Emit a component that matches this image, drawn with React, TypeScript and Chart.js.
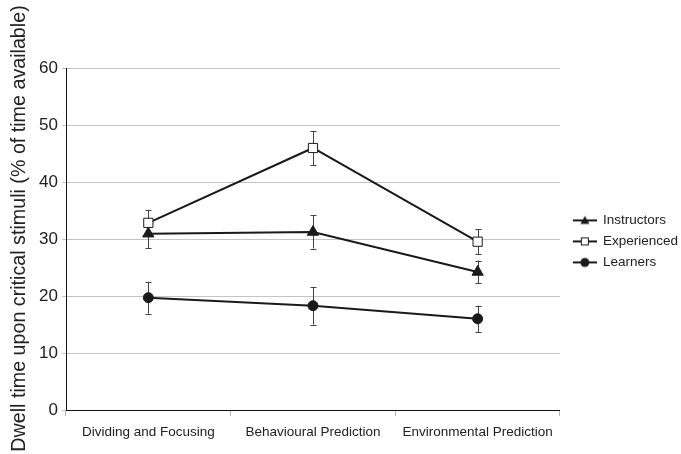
import React, { useEffect, useRef } from "react";
import { Chart, registerables } from "chart.js";

Chart.register(...registerables);

const categories = ["Dividing and Focusing", "Behavioural Prediction", "Environmental Prediction"];
const seriesNames = ["Instructors", "Experienced", "Learners"];
const instructors = [31.0, 31.3, 24.3];
const experienced = [32.9, 46.0, 29.6];
const learners = [19.8, 18.4, 16.1];
const instructorsErr = [2.5, 2.9, 2.0];
const experiencedErr = [2.3, 3.0, 2.2];
const learnersErr = [2.8, 3.3, 2.3];
const yTicks = [0, 10, 20, 30, 40, 50, 60];
const yTitle = "Dwell time upon critical stimuli (% of time available)";

const FONT = "'Liberation Sans', Arial, Helvetica, sans-serif";
const LINE = "#1a1a1a";

function makeLegendIcon(style: string): HTMLCanvasElement {
  const c = document.createElement("canvas");
  c.width = 30;
  c.height = 12;
  const ctx = c.getContext("2d")!;
  const ox = 6;
  ctx.strokeStyle = LINE;
  ctx.lineWidth = 2;
  ctx.beginPath();
  ctx.moveTo(ox, 6);
  ctx.lineTo(ox + 24, 6);
  ctx.stroke();
  ctx.lineWidth = 1;
  if (style === "triangle") {
    ctx.fillStyle = LINE;
    ctx.beginPath();
    ctx.moveTo(ox + 12, 1.5);
    ctx.lineTo(ox + 16.5, 9.5);
    ctx.lineTo(ox + 7.5, 9.5);
    ctx.closePath();
    ctx.fill();
  } else if (style === "rect") {
    ctx.fillStyle = "#ffffff";
    ctx.fillRect(ox + 8, 2, 8, 8);
    ctx.strokeRect(ox + 8.5, 2.5, 7, 7);
  } else {
    ctx.fillStyle = LINE;
    ctx.beginPath();
    ctx.arc(ox + 12, 6, 4.5, 0, Math.PI * 2);
    ctx.fill();
  }
  return c;
}

const errorBarPlugin = {
  id: "errorBars",
  beforeDatasetsDraw(chart: any) {
    const { ctx } = chart;
    const yScale = chart.scales.y;
    ctx.save();
    ctx.strokeStyle = "#444444";
    ctx.lineWidth = 1;
    chart.data.datasets.forEach((ds: any, i: number) => {
      const meta = chart.getDatasetMeta(i);
      const errs: number[] = ds.errors || [];
      meta.data.forEach((pt: any, j: number) => {
        const v = ds.data[j];
        const e = errs[j];
        if (v == null || e == null) return;
        const x = Math.round(pt.x) + 0.5;
        const yTop = yScale.getPixelForValue(v + e);
        const yBot = yScale.getPixelForValue(v - e);
        ctx.beginPath();
        ctx.moveTo(x, yTop);
        ctx.lineTo(x, yBot);
        ctx.moveTo(x - 3, Math.round(yTop) + 0.5);
        ctx.lineTo(x + 3, Math.round(yTop) + 0.5);
        ctx.moveTo(x - 3, Math.round(yBot) + 0.5);
        ctx.lineTo(x + 3, Math.round(yBot) + 0.5);
        ctx.stroke();
      });
    });
    ctx.restore();
  },
};

// centre the legend on the plot area rather than on the full right strip
const legendCenterPlugin = {
  id: "legendCenter",
  afterLayout(chart: any) {
    const lg = chart.legend;
    if (!lg) return;
    const area = chart.chartArea;
    const boxMid = (lg.top + lg.bottom) / 2;
    const areaMid = (area.top + area.bottom) / 2;
    const d = areaMid - boxMid + 2;
    lg.top += d;
    lg.bottom += d;
  },
};

const yTitlePlugin = {
  id: "yTitle",
  afterDraw(chart: any) {
    const { ctx, height } = chart;
    ctx.save();
    ctx.translate(20, height / 2 + 1.5);
    ctx.rotate(-Math.PI / 2);
    ctx.font = `19.7px ${FONT}`;
    ctx.fillStyle = "#222222";
    ctx.textAlign = "center";
    ctx.textBaseline = "middle";
    ctx.fillText(yTitle, 0, 0);
    ctx.restore();
  },
};

export default function App() {
  const ref = useRef<HTMLCanvasElement | null>(null);

  useEffect(() => {
    if (!ref.current) return;
    const styles = ["triangle", "rect", "circle"];
    const icons = styles.map(makeLegendIcon);
    const chart = new Chart(ref.current, {
      type: "line",
      data: {
        labels: categories,
        datasets: [
          {
            label: seriesNames[0],
            data: instructors,
            errors: instructorsErr,
            borderColor: LINE,
            backgroundColor: LINE,
            borderWidth: 2,
            pointStyle: "triangle",
            pointRadius: 6.5,
            pointBorderWidth: 1,
            pointBorderColor: LINE,
            pointBackgroundColor: LINE,
          } as any,
          {
            label: seriesNames[1],
            data: experienced,
            errors: experiencedErr,
            borderColor: LINE,
            backgroundColor: "#ffffff",
            borderWidth: 2,
            pointStyle: "rect",
            pointRadius: 6.5,
            pointBorderWidth: 1,
            pointBorderColor: LINE,
            pointBackgroundColor: "#ffffff",
          } as any,
          {
            label: seriesNames[2],
            data: learners,
            errors: learnersErr,
            borderColor: LINE,
            backgroundColor: LINE,
            borderWidth: 2,
            pointStyle: "circle",
            pointRadius: 5,
            pointBorderWidth: 1,
            pointBorderColor: LINE,
            pointBackgroundColor: LINE,
          } as any,
        ],
      },
      options: {
        animation: false,
        responsive: true,
        maintainAspectRatio: false,
        layout: { padding: { top: 68, bottom: 6, left: 0, right: -7 } },
        plugins: {
          tooltip: { enabled: false },
          title: { display: false },
          legend: {
            position: "right",
            align: "center",
            labels: {
              usePointStyle: true,
              pointStyleWidth: 28.75,
              padding: 7.5,
              color: "#222222",
              font: { family: FONT, size: 13.5 },
              generateLabels: () =>
                seriesNames.map((n, i) => ({
                  text: n,
                  pointStyle: icons[i] as any,
                  fillStyle: LINE,
                  strokeStyle: LINE,
                  lineWidth: 0,
                  hidden: false,
                  datasetIndex: i,
                  fontColor: "#222222",
                })),
            },
          },
        },
        scales: {
          x: {
            type: "category",
            offset: true,
            border: { display: true, color: "#111111", width: 1 },
            grid: {
              display: true,
              offset: true,
              drawOnChartArea: false,
              drawTicks: true,
              tickLength: 5,
              color: "#b0b0b0",
            },
            ticks: {
              color: "#222222",
              padding: 8,
              font: { family: FONT, size: 13.5 },
              maxRotation: 0,
              autoSkip: false,
            },
          },
          y: {
            min: 0,
            max: 60,
            afterFit: (s: any) => {
              s.width = 66;
            },
            afterBuildTicks: (s: any) => {
              s.ticks = yTicks.map((v) => ({ value: v }));
            },
            border: { display: true, color: "#111111", width: 1 },
            grid: {
              color: "#c4c4c4",
              tickLength: 4,
              drawTicks: true,
            },
            ticks: {
              color: "#222222",
              padding: 4,
              font: { family: FONT, size: 17 },
            },
          },
        },
      },
      plugins: [errorBarPlugin, legendCenterPlugin, yTitlePlugin],
    });
    return () => chart.destroy();
  }, []);

  return (
    <div style={{ position: "fixed", left: 0, top: 0, width: 681, height: 454, background: "#ffffff" }}>
      <canvas ref={ref} />
    </div>
  );
}
